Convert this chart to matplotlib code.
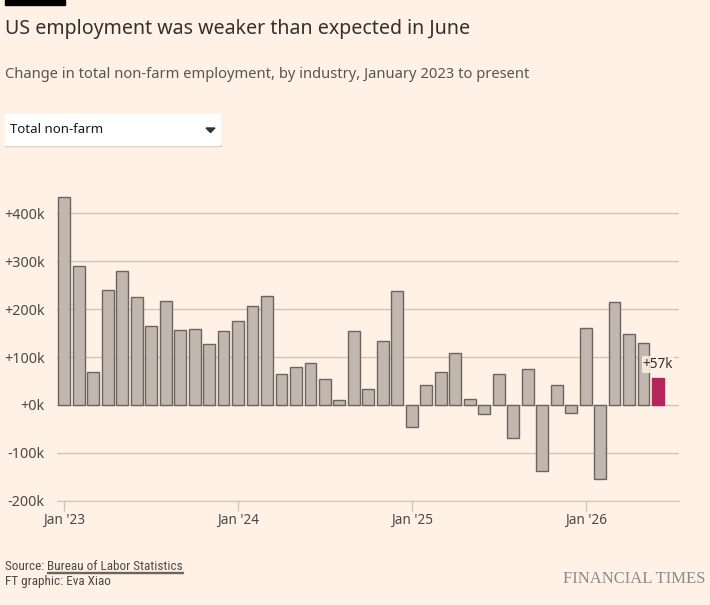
import matplotlib
matplotlib.use('Agg')
import matplotlib.pyplot as plt
from matplotlib.patches import Rectangle, Polygon

# monthly change in total non-farm employment (thousands), Jan 2023 - Jun 2026
months = ['Jan 2023', 'Feb 2023', 'Mar 2023', 'Apr 2023', 'May 2023', 'Jun 2023',
          'Jul 2023', 'Aug 2023', 'Sep 2023', 'Oct 2023', 'Nov 2023', 'Dec 2023',
          'Jan 2024', 'Feb 2024', 'Mar 2024', 'Apr 2024', 'May 2024', 'Jun 2024',
          'Jul 2024', 'Aug 2024', 'Sep 2024', 'Oct 2024', 'Nov 2024', 'Dec 2024',
          'Jan 2025', 'Feb 2025', 'Mar 2025', 'Apr 2025', 'May 2025', 'Jun 2025',
          'Jul 2025', 'Aug 2025', 'Sep 2025', 'Oct 2025', 'Nov 2025', 'Dec 2025',
          'Jan 2026', 'Feb 2026', 'Mar 2026', 'Apr 2026', 'May 2026', 'Jun 2026']
change = [434, 290, 68, 241, 280, 225, 164, 218, 157, 159, 127, 154,
          175, 206, 228, 65, 79, 88, 54, 10, 155, 33, 134, 237,
          -47, 42, 68, 108, 13, -19, 64, -70, 76, -139, 41, -16,
          160, -155, 214, 148, 129, 57]
xtick_pos = [0, 12, 24, 36]
xtick_labels = ["Jan '23", "Jan '24", "Jan '25", "Jan '26"]
ytick_vals = [-200, -100, 0, 100, 200, 300, 400]

BG = '#fff1e5'
TEXT = '#33302e'
GRID = '#cfc4ba'
BAR = '#c1b7ae'
BAR_EDGE = '#6b6560'
HIGHLIGHT = '#b3275a'
SANS = ['Noto Sans', 'DejaVu Sans']

fig = plt.figure(figsize=(7.1, 6.05), dpi=100, facecolor=BG)

# header
fig.patches.append(Rectangle((5 / 710, 1 - 4.5 / 605), 60 / 710, 4.5 / 605,
                             transform=fig.transFigure, color='black'))
fig.text(5 / 710, 1 - 29 / 605, 'US employment was weaker than expected in June',
         fontsize=14.1, color=TEXT, family=SANS, va='center', ha='left')
fig.text(5 / 710, 1 - 74 / 605,
         'Change in total non-farm employment, by industry, January 2023 to present',
         fontsize=10.6, color='#5a5450', family=SANS, va='center', ha='left')

# dropdown box
fig.patches.append(Rectangle((5 / 710, 1 - 146 / 605), 216 / 710, 1 / 605,
                             transform=fig.transFigure, color='#d0c8c0'))
fig.patches.append(Rectangle((5 / 710, 1 - 145 / 605), 215 / 710, 31 / 605,
                             transform=fig.transFigure, color='white'))
fig.text(10 / 710, 1 - 130 / 605, 'Total non-farm', fontsize=9.5, color='#1a1817',
         family=SANS, va='center', ha='left', weight='medium')
fig.patches.append(Polygon([(206 / 710, 1 - 128 / 605), (215 / 710, 1 - 128 / 605),
                            (210.5 / 710, 1 - 132.5 / 605)],
                           transform=fig.transFigure, color='#333333'))

# chart
ax = fig.add_axes([57.3 / 710, (605 - 500.7) / 605, 621.7 / 710, 316 / 605])
ax.set_facecolor(BG)
x = list(range(len(change)))
colors = [BAR] * (len(change) - 1) + [HIGHLIGHT]
edges = [BAR_EDGE] * (len(change) - 1) + [HIGHLIGHT]
ax.bar(x, change, width=0.82, color=colors, edgecolor=edges, linewidth=1, zorder=3)

ax.set_xlim(-0.48, 42.45)
ax.set_ylim(-200, 460)
ax.set_yticks(ytick_vals)
ax.set_yticklabels([('+' if v >= 0 else '') + '%dk' % v for v in ytick_vals])
ax.grid(axis='y', color=GRID, linewidth=1, zorder=0)
for s in ['top', 'right', 'left']:
    ax.spines[s].set_visible(False)
ax.spines['bottom'].set_color(GRID)
ax.spines['bottom'].set_position(('data', -200))
ax.set_xticks(xtick_pos)
ax.set_xticklabels(xtick_labels)
ax.tick_params(axis='y', length=0, pad=9, labelsize=10.3, labelcolor='#4d4845')
ax.tick_params(axis='x', length=7, width=1, color=GRID, pad=2, labelsize=9.8,
               labelcolor='#4d4845')
for lab in ax.get_xticklabels() + ax.get_yticklabels():
    lab.set_family(SANS)

last = len(change) - 1
ax.annotate('+%dk' % change[last], (last, change[last]), xytext=(0, 4),
            textcoords='offset points', ha='center', va='bottom', fontsize=9.8,
            color=TEXT, family=SANS, zorder=5,
            bbox=dict(boxstyle='square,pad=0.05', fc=BG, ec='none', alpha=0.85))

# footer
FOOT = ['DejaVu Sans Condensed', 'Liberation Sans Narrow', 'Roboto Condensed', 'DejaVu Sans']
src = fig.text(5 / 710, 1 - 566 / 605, 'Source: ', fontsize=9.5, color='#4d4845',
               family=FOOT, stretch='condensed', va='center', ha='left')
fig.canvas.draw()
bb = src.get_window_extent()
link = fig.text(bb.x1 / 710, 1 - 566 / 605, 'Bureau of Labor Statistics', fontsize=9.5,
                color='#4d4845', family=FOOT, stretch='condensed', va='center', ha='left')
fig.canvas.draw()
lb = link.get_window_extent()
fig.patches.append(Rectangle((lb.x0 / 710, 1 - 573 / 605), (lb.x1 - lb.x0) / 710, 0.7 / 605,
                             transform=fig.transFigure, color='#6b6560'))
fig.text(5 / 710, 1 - 582 / 605, 'FT graphic: Eva Xiao', fontsize=9.5,
         color='#4d4845', family=FOOT, stretch='condensed', va='center', ha='left')
fig.text(705 / 710, 1 - 579 / 605, 'FINANCIAL TIMES', fontsize=12,
         color='#8f8a85', family=['Liberation Serif', 'DejaVu Serif'],
         va='center', ha='right')

fig.savefig('out.png', dpi=100, facecolor=BG)
